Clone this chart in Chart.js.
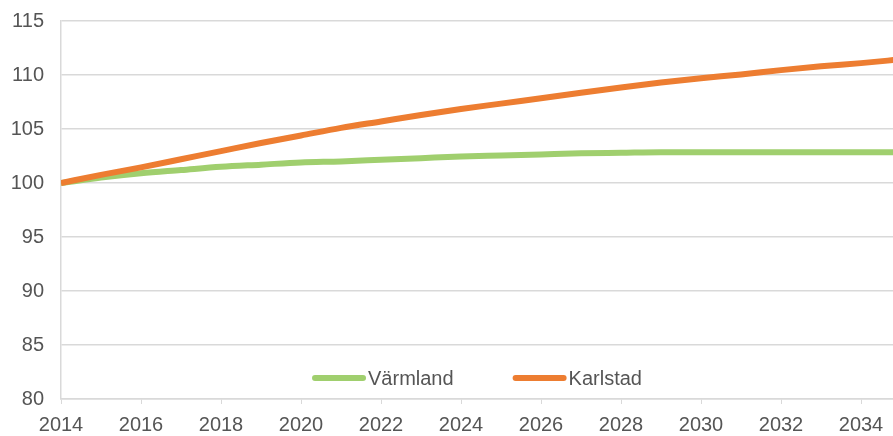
<!DOCTYPE html>
<html>
<head>
<meta charset="utf-8">
<script src="https://cdn.jsdelivr.net/npm/chart.js@4/dist/chart.umd.min.js"></script>
<style>
    html, body { margin: 0; padding: 0; background: #ffffff; }
    #wrap { width: 893px; height: 436px; position: relative; }
</style>
</head>
<body>
<div id="wrap"><canvas id="chart"></canvas></div>
<script>
// years of the projection (index 2014 = 100)
const years = [2014, 2015, 2016, 2017, 2018, 2019, 2020, 2021, 2022, 2023, 2024,
    2025, 2026, 2027, 2028, 2029, 2030, 2031, 2032, 2033, 2034, 2035];

const varmland = [100, 100.5, 100.9, 101.2, 101.5, 101.7, 101.9, 102.0, 102.15, 102.3, 102.45,
    102.55, 102.65, 102.75, 102.8, 102.85, 102.85, 102.85, 102.85, 102.85, 102.85, 102.85];

const karlstad = [100, 100.75, 101.45, 102.2, 102.95, 103.7, 104.4, 105.1, 105.7, 106.3, 106.85,
    107.35, 107.85, 108.35, 108.85, 109.3, 109.7, 110.05, 110.45, 110.8, 111.1, 111.45];

const seriesNames = ["Värmland", "Karlstad"];
const seriesColors = ["#a0cf6e", "#ed7d31"];

const FONT = {family: "'Liberation Sans', Arial, sans-serif", size: 20};
const TEXT_COLOR = "#555555";
const GRID_COLOR = "#d9d9d9";

/**
 * builds {x, y} points for a linear x scale
 */
function toPoints(values) {
    return years.map(function (year, i) {
        return {x: year, y: values[i]};
    });
}

/**
 * draws the legend inside the plot area, centered near the bottom
 */
const innerLegend = {
    id: "innerLegend",
    afterDraw: function (chart) {
        const ctx = chart.ctx;
        const area = chart.chartArea;
        const lineLen = 54;
        const textGap = 2;
        const itemGap = 59;
        ctx.save();
        ctx.font = FONT.size + "px " + FONT.family;
        let items = chart.data.datasets.map(function (ds) {
            return {label: ds.label, color: ds.borderColor, w: lineLen + textGap + ctx.measureText(ds.label).width};
        });
        let total = items.reduce(function (s, it) { return s + it.w; }, 0) + itemGap * (items.length - 1);
        let x = (area.left + area.right) / 2 - total / 2;
        let y = area.bottom - 21;
        for (const it of items) {
            ctx.strokeStyle = it.color;
            ctx.lineWidth = 6;
            ctx.lineCap = "round";
            ctx.beginPath();
            ctx.moveTo(x + 3, y);
            ctx.lineTo(x + lineLen - 3, y);
            ctx.stroke();
            ctx.fillStyle = TEXT_COLOR;
            ctx.textAlign = "left";
            ctx.textBaseline = "middle";
            ctx.fillText(it.label, x + lineLen + textGap, y + 1);
            x += it.w + itemGap;
        }
        ctx.restore();
    }
};

new Chart(document.getElementById("chart"), {
    type: "line",
    data: {
        datasets: [{
            label: seriesNames[0],
            data: toPoints(varmland),
            borderColor: seriesColors[0],
            backgroundColor: seriesColors[0],
            borderWidth: 6,
            pointRadius: 0,
            cubicInterpolationMode: "monotone",
            order: 1
        }, {
            label: seriesNames[1],
            data: toPoints(karlstad),
            borderColor: seriesColors[1],
            backgroundColor: seriesColors[1],
            borderWidth: 6,
            pointRadius: 0,
            cubicInterpolationMode: "monotone",
            order: 0
        }]
    },
    options: {
        responsive: true,
        maintainAspectRatio: false,
        animation: false,
        layout: {padding: {top: 21, right: 0, bottom: 0, left: 0}},
        plugins: {
            legend: {display: false},
            tooltip: {enabled: false}
        },
        scales: {
            x: {
                type: "linear",
                min: 2014,
                max: 2034.8,
                ticks: {
                    stepSize: 2,
                    includeBounds: false,
                    color: TEXT_COLOR,
                    font: FONT,
                    padding: 9,
                    maxRotation: 0,
                    callback: function (v) { return String(v); }
                },
                grid: {drawOnChartArea: false, drawTicks: true, tickLength: 5, color: GRID_COLOR},
                border: {display: true, color: GRID_COLOR, width: 1.5},
                afterFit: function (scale) {
                    scale.height = 37;
                    scale.paddingLeft = 0;
                    scale.paddingRight = 0;
                }
            },
            y: {
                min: 80,
                max: 115,
                ticks: {stepSize: 5, color: TEXT_COLOR, font: FONT, padding: 17},
                grid: {color: GRID_COLOR, lineWidth: 1.5, drawTicks: false},
                border: {display: true, color: GRID_COLOR, width: 1.5},
                afterFit: function (scale) {
                    scale.width = 61;
                    scale.paddingTop = 0;
                    scale.paddingBottom = 0;
                }
            }
        }
    },
    plugins: [innerLegend]
});
</script>
</body>
</html>
